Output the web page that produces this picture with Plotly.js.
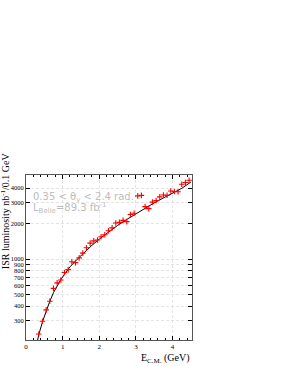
<!DOCTYPE html>
<html>
<head>
<meta charset="utf-8">
<script src="https://cdn.plot.ly/plotly-3.0.1.min.js"></script>
<style>html,body{margin:0;padding:0;background:#fff;}#chart{width:283px;height:366px;}</style>
</head>
<body>
<div id="chart"></div>
<script>
// Measured ISR luminosity per 0.1 GeV bin
const energy = [0.35,0.45,0.55,0.65,0.75,0.85,0.95,1.05,1.15,1.25,1.35,1.45,1.55,1.65,1.75,1.85,1.95,2.05,2.15,2.25,2.35,2.45,2.55,2.65,2.75,2.85,2.95,3.05,3.15,3.25,3.35,3.45,3.55,3.65,3.75,3.85,3.95,4.05,4.15,4.25,4.35,4.45];
const lumi = [232,298,372,440,565,630,665,770,815,950,935,1026,1125,1250,1366,1428,1455,1550,1611,1740,1841,2026,2050,2132,2080,2390,2450,3435,3470,2785,2680,3043,3140,3370,3500,3480,3780,3740,3720,4315,4460,4660];
// Fit curve
const fitE = [0.3,0.35,0.45,0.55,0.65,0.75,0.85,0.95,1.05,1.2,1.4,1.6,1.8,2.0,2.25,2.5,2.75,3.0,3.25,3.5,3.75,4.0,4.25,4.5];
const fitL = [195,230,295,365,440,520,600,670,745,860,1000,1150,1310,1480,1700,1930,2170,2420,2700,3000,3300,3620,3980,4500];
const yTicks = [300,400,500,600,700,800,900,1000,2000,3000,4000];
const yTickText = ['300','400','500','600','700','800','900','1000','2000','3000','4000'];
const xTicks = [0,1,2,3,4];

const serif = 'Liberation Serif';
const data = [
  {x: fitE, y: fitL, type: 'scatter', mode: 'lines', line: {color: '#000', width: 1}, hoverinfo: 'skip'},
  {x: energy, y: lumi, type: 'scatter', mode: 'markers',
   marker: {symbol: 'cross-thin', size: 4, color: 'red', line: {color: 'red', width: 1.1}}}
];
const layout = {
  width: 283, height: 366,
  margin: {l: 26, r: 91, t: 175, b: 26},
  paper_bgcolor: '#fff', plot_bgcolor: '#fff',
  showlegend: false,
  font: {family: serif, size: 7, color: '#000'},
  xaxis: {range: [0, 4.53], tickvals: xTicks, ticks: 'inside', ticklen: 4, tickcolor: '#000',
          showline: true, linecolor: '#555', linewidth: 1, mirror: 'ticks',
          showgrid: true, gridcolor: '#d8d8d8', griddash: '3px,2px', gridwidth: 0.7, zeroline: false,
          tickfont: {family: serif, size: 7, color: '#000'},
          minor: {ticks: 'inside', ticklen: 2, dtick: 0.2, tickcolor: '#000'}},
  yaxis: {type: 'log', range: [2.315, 3.713], tickvals: yTicks, ticktext: yTickText, ticks: 'inside', ticklen: 4,
          tickcolor: '#000', showline: true, linecolor: '#555', linewidth: 1, mirror: 'ticks',
          showgrid: true, gridcolor: '#d8d8d8', griddash: '3px,2px', gridwidth: 0.7, zeroline: false,
          tickfont: {family: serif, size: 6.5, color: '#000'}},
  annotations: [
    {xref: 'paper', yref: 'paper', x: 1.0, y: -0.06, xanchor: 'right', yanchor: 'top', showarrow: false,
     text: 'E<sub>C.M.</sub> (GeV)', font: {family: serif, size: 10}},
    {xref: 'paper', yref: 'paper', x: -0.13, y: 1.15, xanchor: 'center', yanchor: 'top', showarrow: false, textangle: -90,
     text: 'ISR luminosity nb<sup>-1</sup>/0.1 GeV', font: {family: serif, size: 10}},
    {xref: 'paper', yref: 'paper', x: 0.03, y: 0.865, xanchor: 'left', yanchor: 'middle', showarrow: false,
     text: '0.35 < θ<sub>γ</sub> < 2.4 rad.', font: {family: 'DejaVu Sans', size: 10, color: '#bdbdbd'}},
    {xref: 'paper', yref: 'paper', x: 0.03, y: 0.8, xanchor: 'left', yanchor: 'middle', showarrow: false,
     text: 'L<sub>Belle</sub>=89.3 fb<sup>-1</sup>', font: {family: 'DejaVu Sans', size: 10, color: '#bdbdbd'}}
  ]
};
Plotly.newPlot('chart', data, layout, {displayModeBar: false, staticPlot: true});
</script>
</body>
</html>
